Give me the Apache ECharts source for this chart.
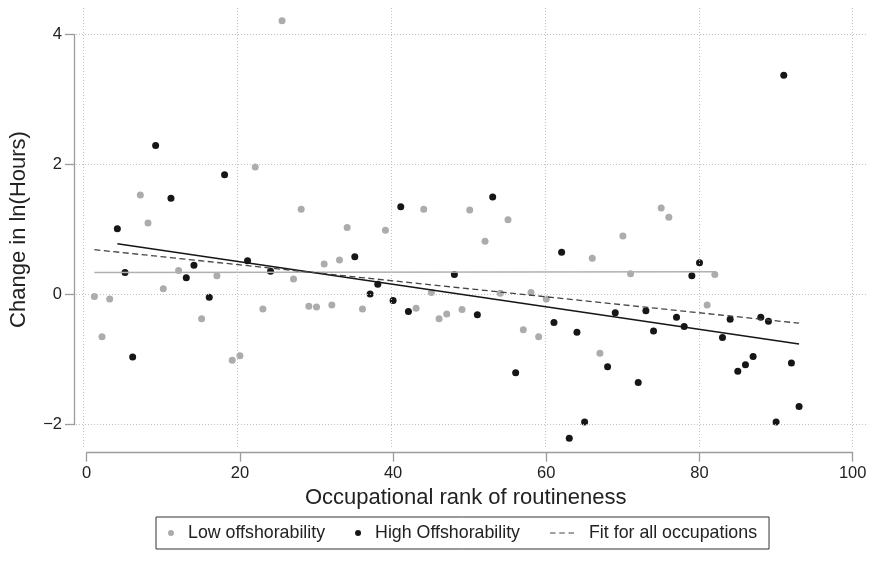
<!DOCTYPE html>
<html>
<head>
<meta charset="utf-8">
<script src="https://cdn.jsdelivr.net/npm/echarts@6/dist/echarts.min.js"></script>
<style>html,body{margin:0;padding:0;background:#fff;}#c{width:872px;height:566px;}</style>
</head>
<body>
<div id="c"></div>
<script>
// ---- data ----
const xLow = [1,2,3,7,8,10,12,15,17,19,20,22,23,25.5,27,28,29,30,31,32,33,34,36,39,43,44,45,46,47,49,50,52,54,55,57,58,59,60,66,67,70,71,75,76,81,82];
const yLow = [-0.03,-0.65,-0.07,1.53,1.10,0.09,0.37,-0.37,0.29,-1.01,-0.94,1.96,-0.22,4.21,0.24,1.31,-0.18,-0.19,0.47,-0.16,0.53,1.03,-0.22,0.99,-0.21,1.31,0.03,-0.37,-0.30,-0.23,1.30,0.82,0.02,1.15,-0.54,0.03,-0.65,-0.07,0.56,-0.90,0.90,0.32,1.33,1.19,-0.16,0.31];
const xHigh = [4,5,6,9,11,13,14,16,18,21,24,35,37,38,40,41,42,48,51,53,56,61,62,63,64,65,68,69,72,73,74,77,78,79,80,83,84,85,86,87,88,89,90,91,92,93];
const yHigh = [1.01,0.34,-0.96,2.29,1.48,0.26,0.45,-0.04,1.84,0.52,0.36,0.58,0.01,0.16,-0.09,1.35,-0.26,0.31,-0.31,1.50,-1.20,-0.43,0.65,-2.21,-0.58,-1.96,-1.11,-0.28,-1.35,-0.25,-0.56,-0.35,-0.49,0.29,0.49,-0.66,-0.38,-1.18,-1.08,-0.95,-0.35,-0.41,-1.96,3.37,-1.05,-1.72];
const fitLowX = [1, 82];
const fitLowY = [0.34, 0.35];
const fitHighX = [4, 93];
const fitHighY = [0.78, -0.76];
const fitAllX = [1, 93];
const fitAllY = [0.69, -0.44];
const xTicks = [0, 20, 40, 60, 80, 100];
const yTicks = [-2, 0, 2, 4];
const seriesNames = ['Low offshorability', 'High Offshorability', 'Fit for all occupations'];
const xTitle = 'Occupational rank of routineness';
const yTitle = 'Change in ln(Hours)';

// ---- layout ----
const FONT = '"Liberation Sans", Arial, Helvetica, sans-serif';
const P = {l: 83.7, r: 852.7, t: 34.3, b: 424.7};          // plotting box (value extents)
const E = {l: 76, r: 867, t: 7, b: 447};                   // extended grid-line box
const xMin = xTicks[0], xMax = xTicks[xTicks.length - 1];
const yMin = yTicks[0], yMax = yTicks[yTicks.length - 1];
const ppx = (P.r - P.l) / (xMax - xMin);
const ppy = (P.b - P.t) / (yMax - yMin);
const exMin = xMin - (P.l - E.l) / ppx, exMax = xMax + (E.r - P.r) / ppx;
const eyMax = yMax + (P.t - E.t) / ppy, eyMin = yMin - (E.b - P.b) / ppy;

const zip = (xs, ys) => xs.map((x, i) => [x, ys[i]]);
const axisCol = '#9c9c9c';
const txtCol = '#222';

const chart = echarts.init(document.getElementById('c'), null, {renderer: 'canvas'});
chart.setOption({
  animation: false,
  backgroundColor: '#fff',
  grid: [
    {left: P.l, top: P.t, width: P.r - P.l, height: P.b - P.t},
    {left: E.l, top: E.t, width: E.r - E.l, height: E.b - E.t}
  ],
  xAxis: [
    {gridIndex: 0, type: 'value', min: xMin, max: xMax, interval: 20, offset: 28,
     axisLine: {onZero: false, lineStyle: {color: axisCol, width: 1.3}},
     axisTick: {length: 9, lineStyle: {color: axisCol, width: 1.3}},
     axisLabel: {margin: 12, fontSize: 16.5, color: txtCol, fontFamily: FONT},
     splitLine: {show: false},
     name: xTitle, nameLocation: 'middle', nameGap: 32,
     nameTextStyle: {fontSize: 22, color: txtCol, fontFamily: FONT, padding: [0, 8, 0, 0]}},
    {gridIndex: 1, type: 'value', min: exMin, max: exMax, show: false}
  ],
  yAxis: [
    {gridIndex: 0, type: 'value', min: yMin, max: yMax, interval: 2, offset: 12.7,
     axisLine: {show: true, onZero: false, lineStyle: {color: axisCol, width: 1.3}},
     axisTick: {show: true, length: 9, lineStyle: {color: axisCol, width: 1.3}},
     axisLabel: {margin: 12, fontSize: 16.5, color: txtCol, fontFamily: FONT,
                 formatter: v => String(v).replace('-', '\u2212')},
     splitLine: {show: false},
     name: yTitle, nameLocation: 'middle', nameGap: 44,
     nameTextStyle: {fontSize: 22, color: txtCol, fontFamily: FONT}},
    {gridIndex: 1, type: 'value', min: eyMin, max: eyMax, show: false}
  ],
  legend: {
    left: 156, top: 517, orient: 'horizontal',
    itemWidth: 24, itemHeight: 6, itemGap: 30,
    padding: [7, 12], borderColor: '#333', borderWidth: 1,
    textStyle: {fontSize: 17.8, color: txtCol, fontFamily: FONT},
    data: [
      {name: seriesNames[0], icon: 'circle'},
      {name: seriesNames[1], icon: 'circle'},
      {name: seriesNames[2], icon: 'path://M0,0h6v1.3h-6z M10,0h6v1.3h-6z M20,0h6v1.3h-6z',
       textStyle: {padding: [0, 0, 0, 10]}}
    ]
  },
  series: [
    {type: 'scatter', name: '_grid', xAxisIndex: 1, yAxisIndex: 1, data: [], silent: true, z: 0,
     markLine: {silent: true, symbol: 'none', label: {show: false},
       lineStyle: {type: [1, 2], color: '#c2c2c2', width: 1},
       emphasis: {disabled: true},
       data: xTicks.map(v => ({xAxis: v})).concat(yTicks.map(v => ({yAxis: v})))}},
    {type: 'scatter', name: seriesNames[0], data: zip(xLow, yLow), symbol: 'circle', symbolSize: 7,
     clip: false, itemStyle: {color: '#acacac', opacity: 1}, z: 2},
    {type: 'scatter', name: seriesNames[1], data: zip(xHigh, yHigh), symbol: 'circle', symbolSize: 7,
     clip: false, itemStyle: {color: '#161616', opacity: 1}, z: 3},
    {type: 'line', name: '_fitLow', data: zip(fitLowX, fitLowY), symbol: 'none',
     lineStyle: {color: '#b0b0b0', width: 1.5}, z: 4},
    {type: 'line', name: '_fitHigh', data: zip(fitHighX, fitHighY), symbol: 'none',
     lineStyle: {color: '#161616', width: 1.6}, z: 5},
    {type: 'line', name: seriesNames[2], data: zip(fitAllX, fitAllY), symbol: 'none',
     itemStyle: {color: '#444'},
     lineStyle: {color: '#444', width: 1.3, type: [6, 3.5]}, z: 5}
  ]
});
</script>
</body>
</html>
